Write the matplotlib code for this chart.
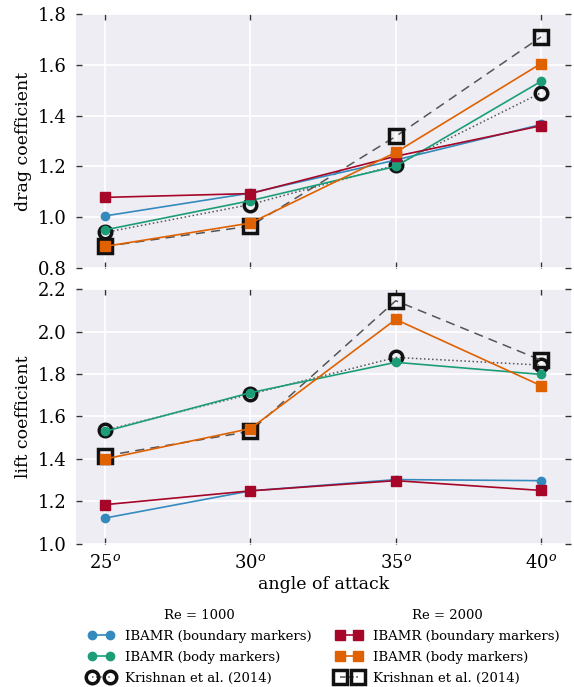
import matplotlib
matplotlib.use("Agg")
import matplotlib.pyplot as plt
from matplotlib.lines import Line2D

plt.rcParams['font.family'] = ['DejaVu Serif']
plt.rcParams['mathtext.fontset'] = 'dejavuserif'

angles = [25, 30, 35, 40]
angle_labels = ['25$^o$', '30$^o$', '35$^o$', '40$^o$']

# drag coefficient
cd_re1000_boundary = [1.005, 1.095, 1.225, 1.365]
cd_re1000_body = [0.950, 1.065, 1.200, 1.535]
cd_re1000_krishnan = [0.940, 1.050, 1.205, 1.490]
cd_re2000_boundary = [1.078, 1.093, 1.240, 1.360]
cd_re2000_body = [0.885, 0.977, 1.255, 1.605]
cd_re2000_krishnan = [0.885, 0.965, 1.318, 1.710]

# lift coefficient
cl_re1000_boundary = [1.122, 1.250, 1.303, 1.298]
cl_re1000_body = [1.530, 1.712, 1.855, 1.798]
cl_re1000_krishnan = [1.535, 1.705, 1.878, 1.842]
cl_re2000_boundary = [1.185, 1.250, 1.298, 1.252]
cl_re2000_body = [1.400, 1.543, 2.057, 1.745]
cl_re2000_krishnan = [1.415, 1.530, 2.145, 1.865]

blue = '#348ABD'
green = '#1B9E77'
red = '#A60628'
orange = '#DF6100'
bg = '#EFEDF4'

fig = plt.figure(figsize=(5.74, 6.87), dpi=100)
ax1 = fig.add_axes([0.1324, 0.6099, 0.8624, 0.3697])
ax2 = fig.add_axes([0.1324, 0.2082, 0.8624, 0.3711])


def draw(ax, b1, g1, k1, b2, g2, k2):
    ax.set_facecolor(bg)
    for s in ax.spines.values():
        s.set_visible(False)
    ax.grid(True, color='white', lw=1.2, zorder=0)
    ax.set_axisbelow(True)
    ax.plot(angles, k1, color='#555555', ls=':', lw=1.1, marker='o', ms=9,
            mfc='none', mec='#111111', mew=2.5, zorder=2)
    ax.plot(angles, k2, color='#555555', ls=(0, (6, 4)), lw=1.1, marker='s', ms=10,
            mfc='none', mec='#111111', mew=2.5, zorder=2)
    ax.plot(angles, b1, color=blue, lw=1.2, marker='o', ms=6, mec=blue, zorder=3)
    ax.plot(angles, g1, color=green, lw=1.2, marker='o', ms=6, mec=green, zorder=3)
    ax.plot(angles, b2, color=red, lw=1.2, marker='s', ms=6.5, mec=red, zorder=3)
    ax.plot(angles, g2, color=orange, lw=1.2, marker='s', ms=6.5, mec=orange, zorder=3)
    ax.set_xlim(24, 41.03)
    ax.set_xticks(angles)
    ax.tick_params(direction='in', top=True, right=True, length=4, width=1,
                   color='#333333', labelsize=13, pad=7)


draw(ax1, cd_re1000_boundary, cd_re1000_body, cd_re1000_krishnan,
     cd_re2000_boundary, cd_re2000_body, cd_re2000_krishnan)
draw(ax2, cl_re1000_boundary, cl_re1000_body, cl_re1000_krishnan,
     cl_re2000_boundary, cl_re2000_body, cl_re2000_krishnan)

ax1.set_ylim(0.8, 1.8)
ax1.set_yticks([0.8, 1.0, 1.2, 1.4, 1.6, 1.8])
ax1.set_yticklabels(['0.8', '1.0', '1.2', '1.4', '1.6', '1.8'])
ax1.set_xticklabels([])
ax1.set_ylabel('drag coefficient', fontsize=12.5, labelpad=4)

ax2.set_ylim(1.0, 2.2)
ax2.set_yticks([1.0, 1.2, 1.4, 1.6, 1.8, 2.0, 2.2])
ax2.set_yticklabels(['1.0', '1.2', '1.4', '1.6', '1.8', '2.0', '2.2'])
ax2.set_xticklabels(angle_labels)
ax2.set_ylabel('lift coefficient', fontsize=12.5, labelpad=4)
ax2.set_xlabel('angle of attack', fontsize=12.5, labelpad=3)
fig.align_ylabels([ax1, ax2])

h1 = [Line2D([], [], color=blue, lw=1.2, marker='o', ms=6),
      Line2D([], [], color=green, lw=1.2, marker='o', ms=6),
      Line2D([], [], color='#555555', ls=':', lw=1.1, marker='o', ms=9,
             mfc='none', mec='#111111', mew=2.5)]
h2 = [Line2D([], [], color=red, lw=1.2, marker='s', ms=6.5),
      Line2D([], [], color=orange, lw=1.2, marker='s', ms=6.5),
      Line2D([], [], color='#555555', ls='--', lw=1.1, marker='s', ms=10,
             mfc='none', mec='#111111', mew=2.5)]
labels = ['IBAMR (boundary markers)', 'IBAMR (body markers)', 'Krishnan et al. (2014)']

leg1 = fig.legend(h1, labels, title='Re = 1000', loc='upper left',
                  bbox_to_anchor=(0.144, 0.121), frameon=False, numpoints=2,
                  fontsize=9.5, title_fontsize=9.5, handlelength=2.0,
                  labelspacing=0.6, borderaxespad=0)
leg2 = fig.legend(h2, labels, title='Re = 2000', loc='upper left',
                  bbox_to_anchor=(0.576, 0.121), frameon=False, numpoints=2,
                  fontsize=9.5, title_fontsize=9.5, handlelength=2.0,
                  labelspacing=0.6, borderaxespad=0)

fig.savefig('out.png', dpi=100)
